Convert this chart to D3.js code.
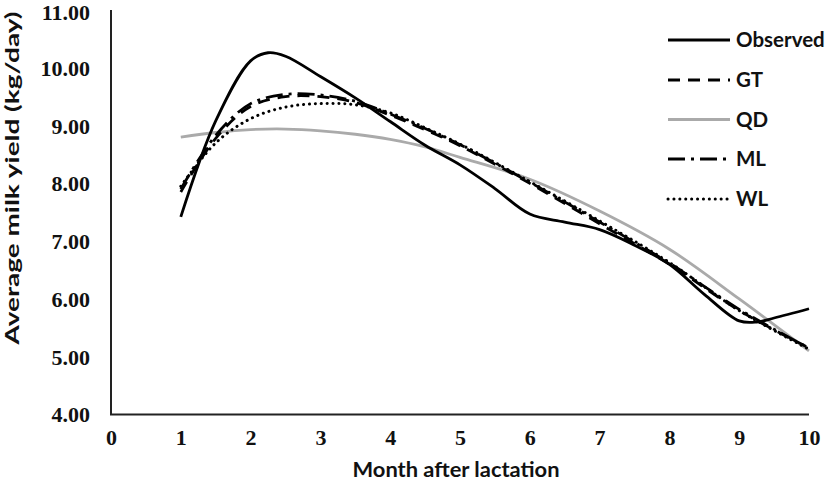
<!DOCTYPE html>
<html>
<head>
<meta charset="utf-8">
<script src="https://cdn.jsdelivr.net/npm/d3@7"></script>
<style>
  html, body { margin: 0; padding: 0; background: #fff; }
  svg { display: block; }
  .tick-label { font-family: "Liberation Serif", "Times New Roman", serif; font-weight: bold; font-size: 22px; fill: #111; }
  .title { font-family: Lato, "Open Sans", sans-serif; font-weight: bold; fill: #111; }
</style>
</head>
<body>
<svg id="chart" width="827" height="483"></svg>
<script>
// ---- data ----
const xTicks = [0, 1, 2, 3, 4, 5, 6, 7, 8, 9, 10];
const yTicks = [4, 5, 6, 7, 8, 9, 10, 11];

const observedMonths = [1, 1.5, 2, 2.25, 2.5, 3, 3.5, 4, 4.5, 5, 5.5, 6, 6.5, 7, 7.5, 8, 8.5, 9, 9.25, 9.5, 10];
const observed       = [7.42, 9.08, 10.12, 10.26, 10.2, 9.85, 9.48, 9.07, 8.66, 8.32, 7.91, 7.47, 7.33, 7.2, 6.93, 6.6, 6.08, 5.62, 5.6, 5.67, 5.83];

const modelMonths = [1, 1.5, 2, 2.5, 3, 3.5, 4, 4.5, 5, 6, 7, 8, 9, 10];
const GT = [7.85, 8.78, 9.33, 9.5, 9.5, 9.4, 9.18, 8.93, 8.65, 8.0, 7.3, 6.6, 5.8, 5.15];
const QD = [8.8, 8.88, 8.93, 8.94, 8.91, 8.85, 8.76, 8.63, 8.45, 8.07, 7.52, 6.86, 6.0, 5.1];
const ML = [7.9, 8.83, 9.38, 9.54, 9.53, 9.42, 9.2, 8.95, 8.67, 8.02, 7.33, 6.62, 5.82, 5.15];
const WL = [7.95, 8.7, 9.12, 9.32, 9.38, 9.36, 9.22, 8.96, 8.68, 8.03, 7.35, 6.63, 5.8, 5.13];

const seriesNames = ["Observed", "GT", "QD", "ML", "WL"];

// ---- styles ----
const styles = {
  Observed: { color: "#000", width: 2.8, dash: null, cap: "butt" },
  GT:       { color: "#000", width: 2.8, dash: "12,8", cap: "butt" },
  QD:       { color: "#aaaaaa", width: 2.8, dash: null, cap: "butt" },
  ML:       { color: "#000", width: 2.8, dash: "17,6,3,6", cap: "butt" },
  WL:       { color: "#000", width: 3, dash: "0.1,5.8", cap: "round" }
};

const svg = d3.select("#chart");
const x = d3.scaleLinear().domain([0, 10]).range([111, 809]);
const y = d3.scaleLinear().domain([4, 11]).range([414.5, 10]);

// axes lines
svg.append("line").attr("x1", x(0)).attr("x2", x(0)).attr("y1", y(11)).attr("y2", y(4))
  .attr("stroke", "#222").attr("stroke-width", 2);
svg.append("line").attr("x1", x(0) - 1).attr("x2", x(10)).attr("y1", y(4)).attr("y2", y(4))
  .attr("stroke", "#222").attr("stroke-width", 2);

// y tick labels
const yAxis = d3.axisLeft(y).tickValues(yTicks).tickFormat(d3.format(".2f")).tickSize(0).tickPadding(21);
const gy = svg.append("g").attr("transform", `translate(${x(0)},0)`).call(yAxis);
gy.select(".domain").remove();
gy.selectAll("text").attr("class", "tick-label").attr("dy", d => d === 11 ? "0.42em" : "0.34em");

// x tick labels
const xAxis = d3.axisBottom(x).tickValues(xTicks).tickFormat(d3.format("d")).tickSize(0).tickPadding(15);
const gx = svg.append("g").attr("transform", `translate(0,${y(4)})`).call(xAxis);
gx.select(".domain").remove();
gx.selectAll("text").attr("class", "tick-label");

// titles
svg.append("text").attr("class", "title").attr("x", 456).attr("y", 477)
  .attr("text-anchor", "middle").style("font-size", "21px")
  .attr("textLength", 207).attr("lengthAdjust", "spacingAndGlyphs")
  .text("Month after lactation");
svg.append("text").attr("class", "title")
  .attr("transform", `translate(19,178) rotate(-90)`)
  .attr("text-anchor", "middle").style("font-size", "18.5px")
  .attr("textLength", 333).attr("lengthAdjust", "spacingAndGlyphs")
  .text("Average milk yield (kg/day)");

// lines
const line = d3.line().x(d => x(d[0])).y(d => y(d[1])).curve(d3.curveCatmullRom.alpha(0.5));
const dataMap = {
  Observed: observedMonths.map((m, i) => [m, observed[i]]),
  GT: modelMonths.map((m, i) => [m, GT[i]]),
  QD: modelMonths.map((m, i) => [m, QD[i]]),
  ML: modelMonths.map((m, i) => [m, ML[i]]),
  WL: modelMonths.map((m, i) => [m, WL[i]])
};
const drawOrder = ["QD", "WL", "ML", "GT", "Observed"];
drawOrder.forEach(name => {
  const s = styles[name];
  svg.append("path").datum(dataMap[name])
    .attr("d", line).attr("fill", "none")
    .attr("stroke", s.color).attr("stroke-width", s.width)
    .attr("stroke-dasharray", s.dash)
    .attr("stroke-linecap", s.cap);
});

// legend
const legendY = [40, 80, 119.5, 159, 199];
const legend = svg.append("g");
seriesNames.forEach((name, i) => {
  const s = styles[name];
  legend.append("line").attr("x1", 668).attr("x2", 730)
    .attr("y1", legendY[i]).attr("y2", legendY[i])
    .attr("stroke", s.color).attr("stroke-width", s.width)
    .attr("stroke-dasharray", s.dash)
    .attr("stroke-linecap", s.cap);
  legend.append("text").attr("class", "title").attr("x", 736).attr("y", legendY[i])
    .attr("dy", "0.36em").style("font-size", "20.5px").text(name);
});
</script>
</body>
</html>
